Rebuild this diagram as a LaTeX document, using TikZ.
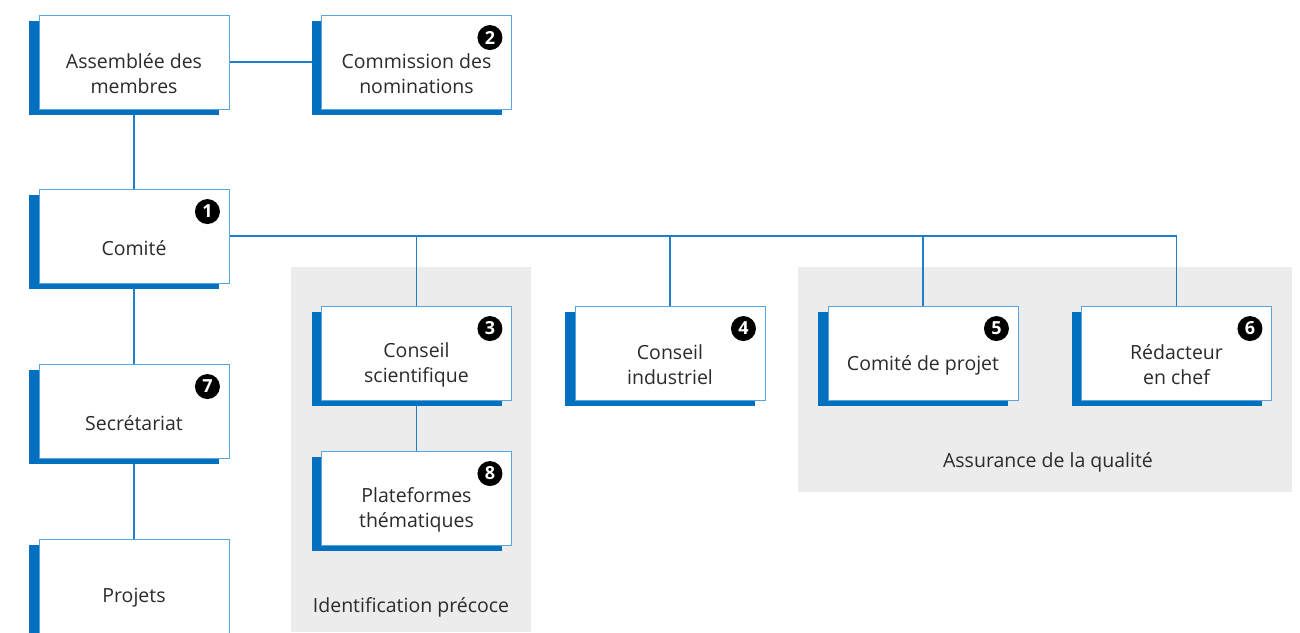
\documentclass[tikz,border=0pt]{standalone}
\usepackage{fontspec}
\setmainfont{Open Sans}
\usetikzlibrary{shadows}
\definecolor{linkblue}{HTML}{1F7FC8}
\definecolor{edgeblue}{HTML}{5BA5DE}
\definecolor{shadeblue}{HTML}{0070BF}
\definecolor{zonegray}{HTML}{ECECEC}
\definecolor{txt}{HTML}{2B2B2B}
\tikzset{
  orgbox/.style={draw=edgeblue, line width=0.9pt, fill=white,
    minimum width=190pt, minimum height=94pt, inner sep=0pt,
    general shadow={fill=shadeblue, shadow xshift=-10pt, shadow yshift=-5.5pt}},
  boxtext/.style={yshift=-12pt, align=center, text=txt, inner sep=0pt,
    font=\fontsize{19.5}{25}\selectfont},
  badge/.style={circle, fill=black, text=white, inner sep=0pt, minimum size=25pt,
    font=\fontsize{18}{18}\selectfont\bfseries},
  link/.style={draw=linkblue, line width=1.6pt},
  zone/.style={fill=zonegray, draw=none},
  zonelabel/.style={text=txt, font=\fontsize{19.5}{22}\selectfont}
}
\begin{document}
\begin{tikzpicture}[x=1pt,y=-1pt]
\useasboundingbox (0,0) rectangle (1300,632);
% grouping zones
\fill[zone] (291,267) rectangle (531,632);
\fill[zone] (798,267) rectangle (1292,492);
\node[zonelabel] (zid) at (411,607) {Identification précoce};
\node[zonelabel] (zaq) at (1048,462) {Assurance de la qualité};
% connectors
\coordinate (jA) at (416.5,236);
\coordinate (jB) at (670,236);
\coordinate (jC) at (923,236);
\coordinate (jD) at (1176.5,236);
\draw[link] (134,62) coordinate (cA) -- (416,62) coordinate (cB);
\draw[link] (134,62) -- (134,600);
\draw[link] (134,236) coordinate (cC) -- (jD);
\draw[link] (jA) -- (416.5,500);
\draw[link] (jB) -- (670,330);
\draw[link] (jC) -- (923,330);
\draw[link] (jD) -- (1176.5,330);
% boxes
\node[orgbox, label={[boxtext]center:Assemblée des\\membres}] (assemblee) at (134,62) {};
\node[orgbox, label={[boxtext]center:Commission des\\nominations}] (commission) at (416.5,62) {};
\node[orgbox, label={[boxtext]center:Comité}] (comite) at (134,236) {};
\node[orgbox, label={[boxtext]center:Secrétariat}] (secretariat) at (134,411) {};
\node[orgbox, label={[boxtext]center:Projets}] (projets) at (134,586) {};
\node[orgbox, label={[boxtext]center:Conseil\\scientifique}] (conseilsci) at (416.5,353) {};
\node[orgbox, label={[boxtext]center:Plateformes\\thématiques}] (plateformes) at (416.5,498) {};
\node[orgbox, label={[boxtext]center:Conseil\\industriel}] (conseilind) at (670,353) {};
\node[orgbox, label={[boxtext]center:Comité de projet}] (comiteprojet) at (923,353) {};
\node[orgbox, label={[boxtext]center:Rédacteur\\en chef}] (redacteur) at (1176.5,353) {};
% numbered badges
\node[badge] (b1) at ([shift={(-22,23)}]comite.north east) {1};
\node[badge] (b2) at ([shift={(-22,23)}]commission.north east) {2};
\node[badge] (b3) at ([shift={(-22,23)}]conseilsci.north east) {3};
\node[badge] (b4) at ([shift={(-22,23)}]conseilind.north east) {4};
\node[badge] (b5) at ([shift={(-22,23)}]comiteprojet.north east) {5};
\node[badge] (b6) at ([shift={(-22,23)}]redacteur.north east) {6};
\node[badge] (b7) at ([shift={(-22,23)}]secretariat.north east) {7};
\node[badge] (b8) at ([shift={(-22,23)}]plateformes.north east) {8};
\end{tikzpicture}
\end{document}
